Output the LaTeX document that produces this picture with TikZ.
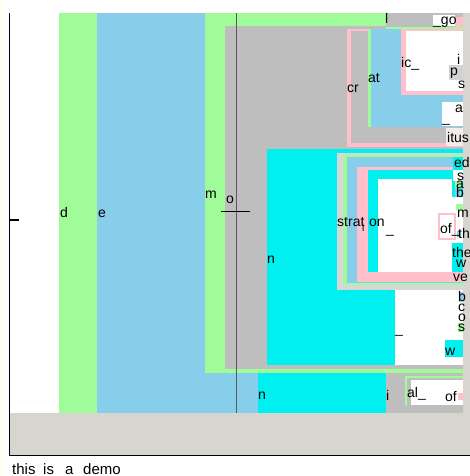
\documentclass[tikz,border=0pt]{standalone}
\usepackage{fontspec}
\setmainfont{Liberation Sans}
\definecolor{tmgreen}{RGB}{160,252,152}
\definecolor{tmblue}{RGB}{135,206,235}
\definecolor{tmgray}{RGB}{190,190,190}
\definecolor{tmcyan}{RGB}{0,240,240}
\definecolor{tmpink}{RGB}{255,192,203}
\definecolor{tmpanel}{RGB}{214,213,206}
\definecolor{tmlight}{RGB}{215,215,215}
\definecolor{tmpale}{RGB}{208,240,236}
\definecolor{tmcream}{RGB}{255,255,242}
\begin{document}
\begin{tikzpicture}[x=1pt,y=-1pt,
  lbl/.style={anchor=base west, inner sep=0pt, font=\fontsize{14}{14}\selectfont},
  captxt/.style={anchor=base west, inner sep=0pt, font=\fontsize{15}{15}\selectfont}]
\useasboundingbox (0,0) rectangle (470,476);
\fill[white] (0,0) rectangle (470,476);
\fill[tmcream] (0,0) rectangle (3,476);
% panel
\fill[tmpanel] (10,413) rectangle (470,455);
\fill[tmpanel] (463,13) rectangle (470,413);
% main columns
\fill[tmgreen] (59,13) rectangle (97,413);
\fill[tmblue] (97,13) rectangle (463,413);
\fill[tmgreen] (205,13) rectangle (463,373);
\fill[tmgray] (225,26) rectangle (463,369);
\fill[tmgray] (386,13) rectangle (463,26);
% top right _go
\fill[white] (433,15) rectangle (455,26);
\fill[tmpink] (455,17) rectangle (463,27);
\fill[tmgreen] (386,27) rectangle (463,29);
% cr box
\fill[tmpink] (347,29) rectangle (463,147);
\fill[tmgray] (351,31) rectangle (463,143);
\fill[tmgreen] (368,29) rectangle (371,127);
\fill[tmblue] (371,29) rectangle (463,127);
\fill[tmpink] (401,29) rectangle (463,95);
\fill[white] (406,31) rectangle (463,91);
\fill[tmgray!70] (449,65) rectangle (463,80);
\fill[white] (442,102) rectangle (463,126);
\fill[tmpanel!60!tmpink!40] (446,128) rectangle (463,146);
% n region
\fill[tmcyan] (267,149) rectangle (463,365);
\fill[tmlight] (337,153) rectangle (463,290);
\fill[tmgreen] (343,155) rectangle (463,285);
\fill[tmblue] (347,157) rectangle (463,283);
\fill[tmpink] (357,167) rectangle (463,282);
\fill[tmcyan] (368,170) rectangle (463,272);
\fill[white] (378,179) rectangle (452,272);
% right column small cells
\fill[tmcyan] (453,157) rectangle (463,170);
\fill[white] (453,170) rectangle (463,181);
\fill[tmgreen] (455,181) rectangle (461,188);
\fill[tmblue] (455,188) rectangle (461,197);
\fill[white] (452,197) rectangle (463,243);
\fill[tmgreen] (456,204) rectangle (463,210);
\fill[tmblue] (457,231) rectangle (461,237);
\fill[tmcyan] (452,243) rectangle (463,268);
% of_ box
\filldraw[fill=white, draw=tmpink, line width=2pt] (439,214) rectangle (455,239);
% lower white
\fill[white] (395,290) rectangle (463,365);
\fill[tmblue] (459,292) rectangle (463,302);
\fill[tmgreen] (458,323) rectangle (463,332);
\fill[tmcyan] (445,340) rectangle (463,357);
% bottom row
\fill[tmcyan] (258,373) rectangle (386,413);
\fill[tmgray] (386,373) rectangle (463,413);
\fill[tmgreen] (405,376) rectangle (463,378);
\fill[tmgreen] (405,376) rectangle (407,406);
\fill[white] (411,380) rectangle (463,405);
\fill[tmpink] (458,393) rectangle (463,400);
% lines
\draw[line width=1pt, black!65] (236.5,13) -- (236.5,413);
\draw[line width=1.3pt] (9.5,13) -- (9.5,455.5) -- (470,455.5);
\draw[line width=1.3pt] (9.5,220) -- (19,220);
\draw[line width=0.9pt] (221,211) -- (250,211);
% labels
\node[lbl] (ld) at (60,217) {d};
\node[lbl] (le) at (98,217) {e};
\node[lbl] (lm) at (205,198) {m};
\node[lbl] (lo) at (226,203) {o};
\node[lbl] (ll) at (385,24) {l};
\node[lbl] (lgo) at (433,25) {\_go};
\node[lbl] (lcr) at (347,93) {cr};
\node[lbl] (lat) at (368,83) {at};
\node[lbl] (lic) at (401,68) {ic\_};
\node[lbl] (li1) at (457,65) {i};
\node[lbl] (lp) at (450,76) {p};
\node[lbl] (ls1) at (458,89) {s};
\node[lbl] (la1) at (455,113) {a};
\node[lbl] (lu1) at (442,122) {\_};
\node[lbl] (litus) at (447,142) {itus};
\node[lbl] (led) at (454,167) {ed};
\node[lbl] (ls2) at (457,180) {s};
\node[lbl] (la2) at (456,188) {a};
\node[lbl] (lb1) at (456,197) {b};
\node[lbl] (lm2) at (457,217) {m};
\node[lbl] (lof1) at (440,233) {of\_};
\node[lbl] (lth) at (458,238) {th};
\node[lbl] (lthe) at (452,257) {the};
\node[lbl] (lw1) at (456,267) {w};
\node[lbl] (lve) at (453,281) {ve};
\node[lbl] (lb2) at (458,301) {b};
\node[lbl] (lc) at (458,311) {c};
\node[lbl] (lo2) at (458,321) {o};
\node[lbl] (ls3) at (458,331) {s};
\node[lbl] (lw2) at (445,355) {w};
\node[lbl] (lstrat) at (337,226) {strat};
\node[lbl, font=\fontsize{10}{10}\selectfont] (lsub) at (362,231) {i};
\node[lbl] (lon) at (369,226) {on};
\node[lbl] (lu2) at (386,233) {\_};
\node[lbl] (ln1) at (267,263) {n};
\node[lbl] (lu3) at (395,333) {\_};
\node[lbl] (ln2) at (258,399) {n};
\node[lbl] (li2) at (386,400) {i};
\node[lbl] (lal) at (407,397) {al\_};
\node[lbl] (lof2) at (445,401) {of};
% caption
\node[captxt] (c1) at (12,474) {this};
\node[captxt] (c2) at (43,474) {is};
\node[captxt] (c3) at (65,474) {a};
\node[captxt] (c4) at (83,474) {demo};
\end{tikzpicture}
\end{document}
